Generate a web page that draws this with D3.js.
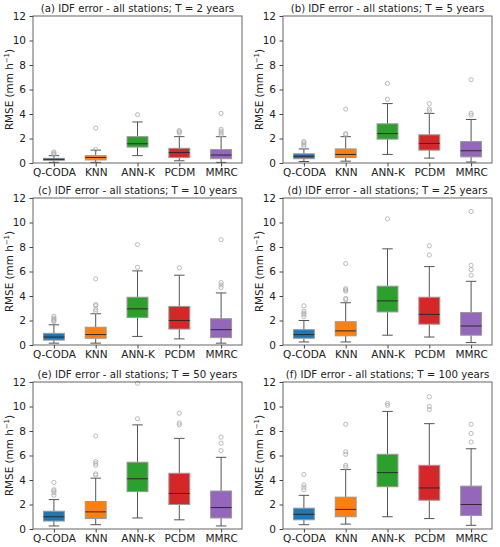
<!DOCTYPE html>
<html><head><meta charset="utf-8">
<script src="https://cdn.jsdelivr.net/npm/d3@7"></script>
<style>body{margin:0;background:#fff}svg{display:block}text{font-family:"DejaVu Sans",sans-serif}</style>
</head><body><svg id="c" width="500" height="547"></svg>
<script>
const categories = ["Q-CODA","KNN","ANN-K","PCDM","MMRC"];
const colors = ["#1f77b4","#ff7f0e","#2ca02c","#d62728","#9467bd"];
const returnPeriods = [2,5,10,25,50,100];
const panelLetters = ["a","b","c","d","e","f"];
const yTicks = [0,2,4,6,8,10,12];

// per panel (rows) x per method (cols)
const whiskerLow = [
  [0.05,0.05,0.6,0.18,0.05],
  [0.12,0.15,0.7,0.4,0.08],
  [0.15,0.15,0.7,0.5,0.15],
  [0.25,0.25,0.8,0.65,0.2],
  [0.25,0.35,0.9,0.75,0.25],
  [0.35,0.4,1.0,0.85,0.3]
];
const q1 = [
  [0.22,0.25,1.3,0.45,0.35],
  [0.35,0.45,1.95,1.05,0.5],
  [0.4,0.55,2.25,1.3,0.6],
  [0.55,0.75,2.7,1.7,0.8],
  [0.65,0.85,3.05,2.0,0.9],
  [0.75,1.0,3.45,2.35,1.1]
];
const median = [
  [0.3,0.45,1.57,0.85,0.65],
  [0.55,0.7,2.4,1.6,1.0],
  [0.65,0.85,2.95,2.0,1.25],
  [0.85,1.15,3.6,2.5,1.55],
  [1.0,1.4,4.1,2.9,1.75],
  [1.2,1.6,4.6,3.35,2.0]
];
const q3 = [
  [0.38,0.6,2.15,1.2,1.1],
  [0.75,1.15,3.2,2.3,1.75],
  [0.95,1.45,3.9,3.15,2.15],
  [1.25,1.9,4.8,3.9,2.65],
  [1.45,2.25,5.45,4.55,3.1],
  [1.7,2.6,6.1,5.2,3.5]
];
const whiskerHigh = [
  [0.6,1.05,3.35,2.15,2.15],
  [1.15,2.15,4.85,4.05,3.55],
  [1.65,2.55,6.05,5.7,4.25],
  [2.0,3.45,7.85,6.4,5.2],
  [2.4,4.15,8.5,7.4,5.85],
  [2.75,4.85,9.6,8.6,6.55]
];
const outliers = [
  [[0.7,0.8,0.9],[1.1,2.85],[3.95],[2.45,2.55,2.65],[2.3,2.45,2.6,2.75,4.05]],
  [[1.35,1.5,1.65,1.75],[2.3,2.4,4.4],[5.2,6.5],[4.25,4.4,4.85],[3.9,4.05,6.8]],
  [[1.9,2.0,2.1,2.2,2.35],[2.75,2.9,3.2,3.3,5.4],[6.35,8.2],[6.3],[4.7,4.9,5.1,8.6]],
  [[2.3,2.5,2.6,2.75,3.2],[3.7,3.8,4.4,4.5,4.6,6.65],[10.3],[7.35,8.1],[5.7,6.15,6.5,10.9]],
  [[2.75,2.95,3.1,3.2,3.8],[4.4,4.5,5.2,5.35,5.5,7.6],[9.0,11.9],[8.5,8.65,9.45],[6.4,7.0,7.5]],
  [[3.2,3.4,3.6,4.45],[5.05,5.2,6.1,6.3,8.55],[10.1,10.25],[9.75,10.0,10.8],[7.1,7.8,8.55]]
];

const svg = d3.select("#c");
const colLeft = [33, 283], colWidth = 209;
const rowTop = [16, 198, 382], rowHeight = 147;

returnPeriods.forEach((T, p) => {
  const r = Math.floor(p / 2), c = p % 2;
  const g = svg.append("g").attr("transform", `translate(${colLeft[c]},${rowTop[r]})`);
  const x = d3.scaleLinear().domain([0.5, 5.5]).range([0, colWidth]);
  const y = d3.scaleLinear().domain([0, 12]).range([rowHeight, 0]);
  const bw = x(1.25) - x(1);

  categories.forEach((cat, i) => {
    const cx = x(i + 1);
    const bg = g.append("g");
    const wl = "#555";
    bg.append("line").attr("x1", cx).attr("x2", cx).attr("y1", y(whiskerLow[p][i])).attr("y2", y(q1[p][i])).attr("stroke", wl).attr("stroke-width", 1);
    bg.append("line").attr("x1", cx).attr("x2", cx).attr("y1", y(q3[p][i])).attr("y2", y(whiskerHigh[p][i])).attr("stroke", wl).attr("stroke-width", 1);
    [whiskerLow[p][i], whiskerHigh[p][i]].forEach(v => {
      bg.append("line").attr("x1", cx - bw/2).attr("x2", cx + bw/2).attr("y1", y(v)).attr("y2", y(v)).attr("stroke", wl).attr("stroke-width", 1);
    });
    bg.append("rect").attr("x", cx - bw).attr("width", 2*bw)
      .attr("y", y(q3[p][i])).attr("height", y(q1[p][i]) - y(q3[p][i]))
      .attr("fill", colors[i]).attr("stroke", "#999").attr("stroke-width", 1);
    bg.append("line").attr("x1", cx - bw).attr("x2", cx + bw).attr("y1", y(median[p][i])).attr("y2", y(median[p][i])).attr("stroke", "#2a2a2a").attr("stroke-width", 1);
    outliers[p][i].forEach(v => {
      bg.append("circle").attr("cx", cx).attr("cy", y(v)).attr("r", 2.1).attr("fill", "none").attr("stroke", "#aaa").attr("stroke-width", 0.8);
    });
  });

  const ya = g.append("g").call(d3.axisLeft(y).tickValues(yTicks).tickSize(3.5).tickPadding(3.5));
  ya.select(".domain").remove();
  ya.selectAll("text").attr("font-size", 10.5).attr("fill", "#222").attr("font-family", "DejaVu Sans");
  ya.selectAll("line").attr("stroke", "#444");
  const xa = g.append("g").attr("transform", `translate(0,${rowHeight})`)
    .call(d3.axisBottom(x).tickValues([1,2,3,4,5]).tickFormat((d) => categories[d-1]).tickSize(3.5).tickPadding(2.5));
  xa.select(".domain").remove();
  xa.selectAll("text").attr("font-size", 10.5).attr("fill", "#222").attr("font-family", "DejaVu Sans");
  xa.selectAll("line").attr("stroke", "#444");

  g.append("rect").attr("x", 0).attr("y", 0).attr("width", colWidth).attr("height", rowHeight)
    .attr("fill", "none").attr("stroke", "#555").attr("stroke-width", 0.9);

  g.append("text").attr("x", colWidth/2).attr("y", -4).attr("text-anchor", "middle")
    .attr("font-size", 10.2).attr("fill", "#222")
    .text(`(${panelLetters[p]}) IDF error - all stations; T = ${T} years`);

  const yl = g.append("text").attr("transform", `translate(${-20},${rowHeight/2}) rotate(-90)`)
    .attr("text-anchor", "middle").attr("font-size", 10.4).attr("fill", "#222");
  yl.append("tspan").text("RMSE (mm h");
  yl.append("tspan").attr("font-size", 7).attr("dy", -4).text("−1");
  yl.append("tspan").attr("dy", 4).text(")");
});
</script></body></html>
